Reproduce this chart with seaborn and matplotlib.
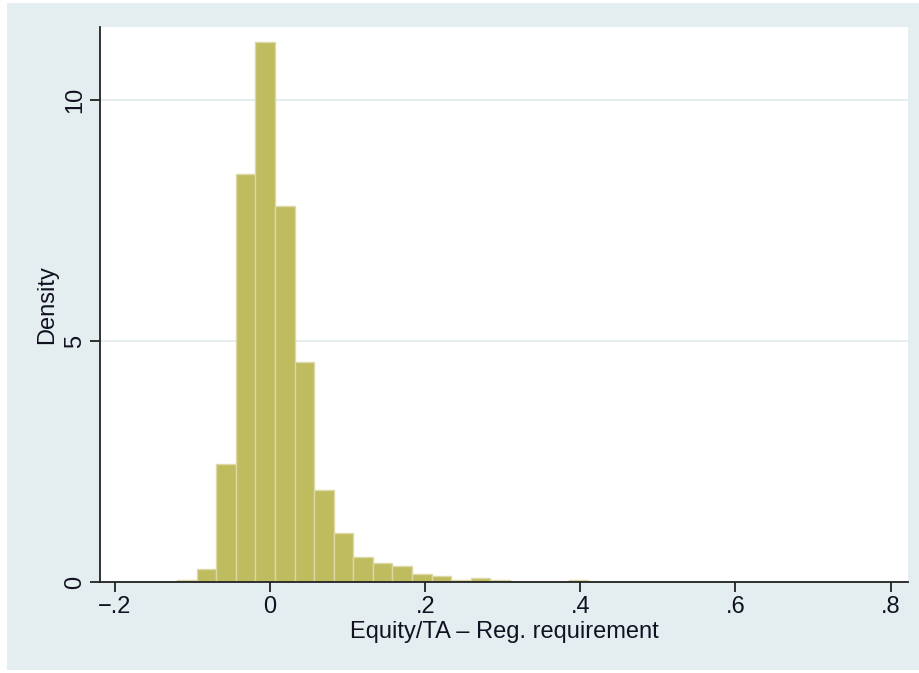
import numpy as np
import pandas as pd
import seaborn as sns
import matplotlib.pyplot as plt
from matplotlib.patches import Rectangle

# Histogram: first bin edge, bin width, density per bin
bin_start = -0.120
bin_width = 0.02525
density = [0.05, 0.27, 2.44, 8.47, 11.21, 7.80, 4.56, 1.90, 1.02, 0.52,
           0.39, 0.34, 0.17, 0.12, 0.04, 0.09, 0.04, 0.0, 0.0, 0.0, 0.04]

x_ticks = [-0.2, 0, 0.2, 0.4, 0.6, 0.8]
x_labels = ['\u2212.2', '0', '.2', '.4', '.6', '.8']
y_ticks = [0, 5, 10]
y_labels = ['0', '5', '10']

bin_edges = list(bin_start + bin_width * np.arange(len(density) + 1))
df = pd.DataFrame({'x': np.array(bin_edges[:-1]) + bin_width / 2, 'density': density})

sns.set_style('white')
plt.rcParams['font.family'] = ['Liberation Sans Narrow', 'Liberation Sans', 'DejaVu Sans']

bg = '#e4edef'
fig = plt.figure(figsize=(9.19, 6.73), dpi=100)
fig.patch.set_facecolor('white')
fig.patches.append(Rectangle((7 / 919, 3 / 673), 912 / 919, 667 / 673,
                             transform=fig.transFigure, facecolor=bg,
                             edgecolor='none', zorder=-10))

ax = fig.add_axes([100 / 919, 91 / 673, 808 / 919, 555.5 / 673])
ax.set_facecolor('white')

sns.histplot(data=df, x='x', weights='density', bins=bin_edges, ax=ax,
             color='#bfbb5f', edgecolor='#dcd9a6', linewidth=1.0, alpha=1)

ax.set_xlim(-0.2193, 0.8225)
ax.set_ylim(0, 11.53)
ax.set_xticks(x_ticks)
ax.set_xticklabels(x_labels)
ax.set_yticks(y_ticks)
ax.set_yticklabels(y_labels, rotation=90, va='center')

ax.yaxis.grid(True, color='#e0eaec', linewidth=1.2)
ax.set_axisbelow(True)
for s in ['top', 'right']:
    ax.spines[s].set_visible(False)
for s in ['left', 'bottom']:
    ax.spines[s].set_color('#222222')
    ax.spines[s].set_linewidth(1.3)

ax.tick_params(axis='both', direction='out', length=7, width=1.3,
               color='#222222', labelsize=17, labelcolor='#111122', pad=3,
               left=True, bottom=True)

ax.set_xlabel('Equity/TA \u2013 Reg. requirement', fontsize=17, color='#111122', labelpad=2)
ax.set_ylabel('Density', fontsize=17, color='#111122', labelpad=4)

fig.savefig('out.png', dpi=100, facecolor=fig.get_facecolor())
